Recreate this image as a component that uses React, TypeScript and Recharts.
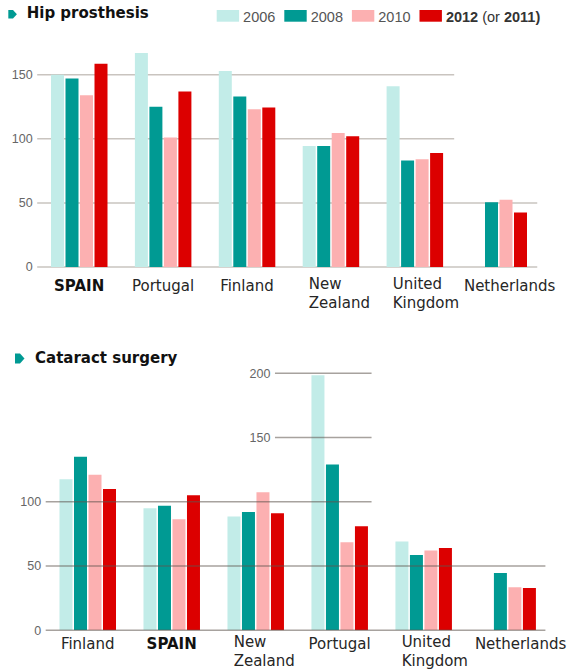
import React from 'react';
import { BarChart, Bar, XAxis, YAxis, ReferenceLine } from 'recharts';

// ---------- data ----------
const years = ['2006', '2008', '2010', '2012'];
const seriesColors = ['#c2ece8', '#009a93', '#fcb0b1', '#dc0000'];

const hipCountries = ['SPAIN', 'Portugal', 'Finland', 'New Zealand', 'United Kingdom', 'Netherlands'];
const hip2006 = [150, 167, 153, 94.5, 141, null];
const hip2008 = [147, 125, 133, 94.5, 83, 50.5];
const hip2010 = [134, 101, 123, 104.5, 84, 52.5];
const hip2012 = [158.5, 137, 124.5, 102, 89, 42.5];

const catCountries = ['Finland', 'SPAIN', 'New Zealand', 'Portugal', 'United Kingdom', 'Netherlands'];
const cat2006 = [117.5, 95, 88.5, 198.5, 69, null];
const cat2008 = [135, 97, 92, 129, 58.5, 44.5];
const cat2010 = [121, 86.5, 107.5, 68.5, 62, 33.5];
const cat2012 = [110, 105, 91, 81, 64, 33];

// gridline values with their extent in category units
const hipGrid = [
  { v: 150, from: 0, to: 4.97 },
  { v: 100, from: 0, to: 4.97 },
  { v: 50, from: 0, to: 5.96 },
  { v: 0, from: 0, to: 5.96 },
];
const catGrid = [
  { v: 200, from: 2.73, to: 3.88 },
  { v: 150, from: 2.73, to: 3.88 },
  { v: 100, from: 0, to: 3.88 },
  { v: 50, from: 0, to: 5.95 },
  { v: 0, from: 0, to: 5.95 },
];

const buildRows = (names: string[], a: any[], b: any[], c: any[], d: any[]) =>
  names.map((name, i) => ({ name, y2006: a[i], y2008: b[i], y2010: c[i], y2012: d[i] }));

const hipRows = buildRows(hipCountries, hip2006, hip2008, hip2010, hip2012);
const catRows = buildRows(catCountries, cat2006, cat2008, cat2010, cat2012);

const SANS = '"DejaVu Sans", Verdana, sans-serif';
const ARIAL = '"Liberation Sans", Arial, sans-serif';

const makeTick = (dy: number, lastShift: number, lastName: string) => (props: any) => {
  const { x, y, payload } = props;
  const name: string = payload.value;
  const bold = name === 'SPAIN';
  const parts = name.split(' ');
  const common = {
    fontFamily: SANS,
    fontSize: 15,
    fill: bold ? '#111' : '#262626',
    fontWeight: bold ? 700 : 400,
  };
  if (parts.length > 1) {
    const lx = x - 22;
    return (
      <text x={lx} y={y + dy - 1.5} textAnchor="start" {...common}>
        {parts.map((p, i) => (
          <tspan key={p} x={lx} dy={i === 0 ? 0 : 18.5}>
            {p}
          </tspan>
        ))}
      </text>
    );
  }
  const cx = name === lastName ? x + lastShift : x;
  return (
    <text x={cx} y={y + dy} textAnchor="middle" {...common}>
      {name}
    </text>
  );
};

type GridDef = { v: number; from: number; to: number };

const gridLines = (defs: GridDef[], stroke: string, opacity: number, z: number) =>
  defs.map((g) => (
    <ReferenceLine
      key={'g' + g.v}
      xAxisId="grid"
      segment={[
        { x: g.from, y: g.v },
        { x: g.to, y: g.v },
      ]}
      ifOverflow="visible"
      stroke={stroke}
      strokeOpacity={opacity}
      strokeWidth={1.5}
      zIndex={z}
      label={{
        value: String(g.v),
        position: 'left',
        offset: 4.5,
        fill: '#666',
        fontSize: 12.5,
        fontFamily: ARIAL,
      }}
    />
  ));

const bars = () =>
  years.map((yr, i) => (
    <Bar key={yr} dataKey={'y' + yr} fill={seriesColors[i]} isAnimationActive={false} />
  ));

export default function App() {
  return (
    <div style={{ position: 'absolute', left: 0, top: 0, width: 568, height: 672, background: '#fff', overflow: 'hidden' }}>
      <div style={{ position: 'absolute', left: 0, top: 0 }}>
        <BarChart
          width={568}
          height={330}
          data={hipRows}
          margin={{ top: 36.3, right: 27.4, bottom: 3, left: 37.2 }}
          barCategoryGap={13.8}
          barGap={1.5}
        >
          <XAxis
            dataKey="name"
            axisLine={false}
            tickLine={false}
            tickSize={0}
            tickMargin={0}
            height={60}
            interval={0}
            tick={makeTick(23.5, 11, 'Netherlands')}
          />
          <XAxis xAxisId="grid" dataKey="gridSlot" type="number" domain={[0, 6]} hide allowDataOverflow />
          <YAxis hide domain={[0, 180]} allowDataOverflow />
          {gridLines(hipGrid, '#c9c4bf', 1, -50)}
          {bars()}
        </BarChart>
      </div>
      <div style={{ position: 'absolute', left: 0, top: 330 }}>
        <BarChart
          width={568}
          height={342}
          data={catRows}
          margin={{ top: 30.4, right: 18.4, bottom: 1.7, left: 45.7 }}
          barCategoryGap={13.8}
          barGap={1.5}
        >
          <XAxis
            dataKey="name"
            axisLine={false}
            tickLine={false}
            tickSize={0}
            tickMargin={0}
            height={40}
            interval={0}
            tick={makeTick(18.5, 13, 'Netherlands')}
          />
          <XAxis xAxisId="grid" dataKey="gridSlot" type="number" domain={[0, 6]} hide allowDataOverflow />
          <YAxis hide domain={[0, 210]} allowDataOverflow />
          {bars()}
          {gridLines(catGrid, '#5e554e', 0.55, 700)}
        </BarChart>
      </div>
      <svg
        width={568}
        height={672}
        style={{ position: 'absolute', left: 0, top: 0, pointerEvents: 'none' }}
      >
        {/* Titles */}
        <polygon points="8.3,10 13,10 16.9,14.2 13,18.4 8.3,18.4" fill="#009a93" />
        <text x={26.7} y={18.3} fontFamily={SANS} fontWeight={700} fontSize={15} fill="#111">
          Hip prosthesis
        </text>
        <polygon points="15,353.5 20,353.5 24.5,358.5 20,363.5 15,363.5" fill="#009a93" />
        <text x={35} y={363.3} fontFamily={SANS} fontWeight={700} fontSize={15} fill="#111">
          Cataract surgery
        </text>
        {/* Legend */}
        {years.map((yr, i) => {
          const sx = 216.7 + i * 67.6;
          const last = i === years.length - 1;
          return (
            <g key={yr}>
              <rect x={sx} y={10} width={22.4} height={11.7} fill={seriesColors[i]} />
              <text x={sx + 26.4} y={21.5} fontFamily={ARIAL} fontSize={14.5} fill={last ? '#333' : '#555'}>
                {last ? (
                  <>
                    <tspan fontWeight={700}>{yr} </tspan>
                    <tspan>(or </tspan>
                    <tspan fontWeight={700}>2011)</tspan>
                  </>
                ) : (
                  yr
                )}
              </text>
            </g>
          );
        })}
      </svg>
    </div>
  );
}
